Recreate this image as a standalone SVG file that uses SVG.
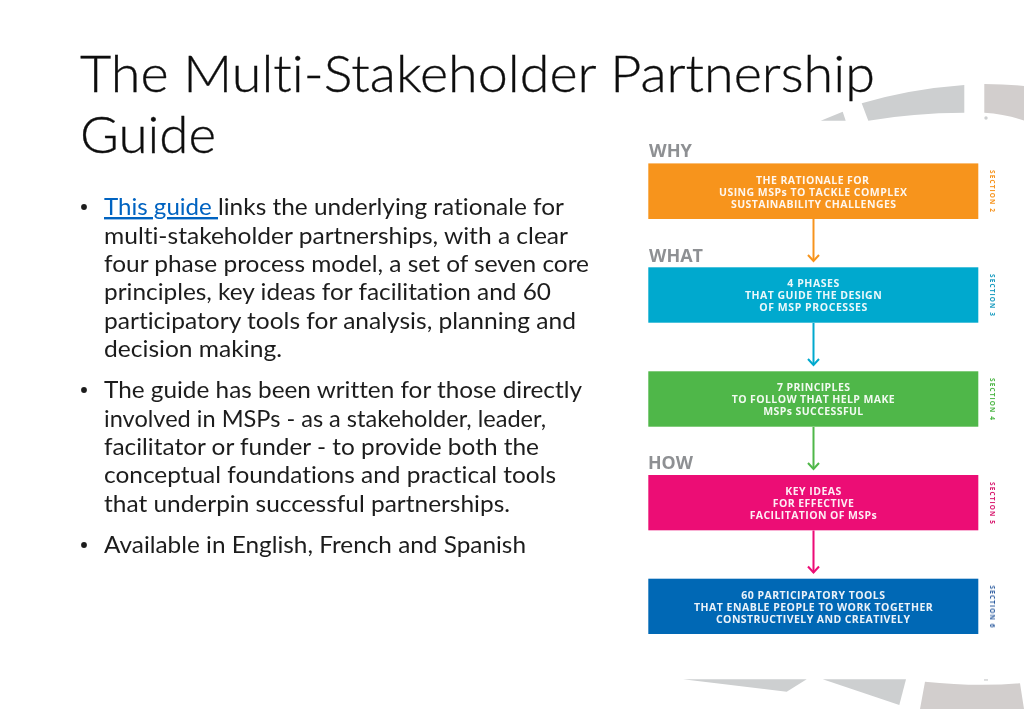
<svg xmlns="http://www.w3.org/2000/svg" width="1024" height="709" viewBox="0 0 1024 709">
<style>
.title{font-family:Lato,"Liberation Sans",sans-serif;font-weight:300;font-size:52px;fill:#111;stroke:#111;stroke-width:.35;font-variant-ligatures:none}
.body{font-family:Lato,"Liberation Sans",sans-serif;font-size:24px;fill:#1c1c1c;font-variant-ligatures:none}
.link{fill:#0563c1;text-decoration:underline;white-space:pre}
.head{font-family:"Open Sans","Liberation Sans",sans-serif;font-weight:700;font-size:18px;fill:#8e9093}
.box{font-family:"Open Sans","Liberation Sans",sans-serif;font-weight:700;font-size:10.500px;fill:#fff;fill-opacity:.92}
.sec{font-family:"Open Sans","Liberation Sans",sans-serif;font-weight:700;font-size:6.500px}
.arc{fill:#cdcfd0}
.arc2{fill:#d2cecd}
.soft{filter:url(#soft)}
.faint{filter:url(#faint)}
.cn{fill:none;stroke-width:2}
</style>
<defs>
<filter id="soft" filterUnits="userSpaceOnUse" x="0" y="0" width="1024" height="709"><feGaussianBlur stdDeviation="0.4"/></filter>
<filter id="faint" filterUnits="userSpaceOnUse" x="0" y="0" width="1024" height="709"><feGaussianBlur stdDeviation="0.25"/></filter>
<marker id="mo" markerUnits="userSpaceOnUse" markerWidth="14" markerHeight="10" refX="7" refY="8" viewBox="0 0 14 10"><path d="M1.500 2L7 8L12.500 2" fill="none" stroke="#f7941e" stroke-width="2"/></marker>
<marker id="mb" markerUnits="userSpaceOnUse" markerWidth="14" markerHeight="10" refX="7" refY="8" viewBox="0 0 14 10"><path d="M1.500 2L7 8L12.500 2" fill="none" stroke="#00a9ce" stroke-width="2"/></marker>
<marker id="mg" markerUnits="userSpaceOnUse" markerWidth="14" markerHeight="10" refX="7" refY="8" viewBox="0 0 14 10"><path d="M1.500 2L7 8L12.500 2" fill="none" stroke="#4fb748" stroke-width="2"/></marker>
<marker id="mp" markerUnits="userSpaceOnUse" markerWidth="14" markerHeight="10" refX="7" refY="8" viewBox="0 0 14 10"><path d="M1.500 2L7 8L12.500 2" fill="none" stroke="#ec0b74" stroke-width="2"/></marker>
</defs>
<rect width="1024" height="709" fill="#fff"/>

<g id="background-arcs" class="soft">
<path class="arc" d="M820.700 120.700L842.700 111.700L845.700 120.700Z"/>
<path class="arc" d="M861.700 103.300Q910 89 964.300 85V112.700Q912 113 868.300 120.700Z"/>
<path class="arc2" d="M984.300 84Q1005 84 1024 86V120.500Q1005 114 984.300 112.700Z"/>
<circle class="arc" cx="986" cy="118" r="1.700"/>
<path class="arc" d="M683 679.300H806.700L786.700 691.700Z"/>
<path class="arc" d="M822.700 679.300H906L899.300 705Z"/>
<path class="arc2" d="M925 681.700Q975 687 1020 683.300L1024 709H920Z"/>
<rect class="arc" x="984" y="679.300" width="4" height="1.300"/>
</g>

<g id="title" class="faint">
<text class="title" x="80" y="92" textLength="795" lengthAdjust="spacingAndGlyphs">The Multi-Stakeholder Partnership</text>
<text class="title" x="80" y="153" textLength="136" lengthAdjust="spacingAndGlyphs">Guide</text>
</g>

<g id="bullets" class="faint">
<circle cx="84" cy="207" r="2.900" fill="#1c1c1c"/>
<circle cx="84" cy="390" r="2.900" fill="#1c1c1c"/>
<circle cx="84" cy="545" r="2.900" fill="#1c1c1c"/>
<text class="body link" x="104" y="215" textLength="114" lengthAdjust="spacingAndGlyphs" xml:space="preserve">This guide </text>
<text class="body" x="218" y="215" textLength="346" lengthAdjust="spacingAndGlyphs">links the underlying rationale for</text>
<text class="body" x="104" y="243.500" textLength="464" lengthAdjust="spacingAndGlyphs">multi-stakeholder partnerships, with a clear</text>
<text class="body" x="104" y="272" textLength="485" lengthAdjust="spacingAndGlyphs">four phase process model, a set of seven core</text>
<text class="body" x="104" y="300" textLength="447" lengthAdjust="spacingAndGlyphs">principles, key ideas for facilitation and 60</text>
<text class="body" x="104" y="328.500" textLength="472" lengthAdjust="spacingAndGlyphs">participatory tools for analysis, planning and</text>
<text class="body" x="104" y="357" textLength="178" lengthAdjust="spacingAndGlyphs">decision making.</text>
<text class="body" x="104" y="398" textLength="478" lengthAdjust="spacingAndGlyphs">The guide has been written for those directly</text>
<text class="body" x="104" y="426.500" textLength="442" lengthAdjust="spacingAndGlyphs">involved in MSPs - as a stakeholder, leader,</text>
<text class="body" x="104" y="455" textLength="435" lengthAdjust="spacingAndGlyphs">facilitator or funder - to provide both the</text>
<text class="body" x="104" y="483" textLength="452" lengthAdjust="spacingAndGlyphs">conceptual foundations and practical tools</text>
<text class="body" x="104" y="511.500" textLength="406" lengthAdjust="spacingAndGlyphs">that underpin successful partnerships.</text>
<text class="body" x="104" y="553" textLength="422" lengthAdjust="spacingAndGlyphs">Available in English, French and Spanish</text>
</g>

<g id="connectors" class="soft">
<path class="cn" stroke="#f7941e" d="M813.500 219V261" marker-end="url(#mo)"/>
<path class="cn" stroke="#00a9ce" d="M813.500 323V365" marker-end="url(#mb)"/>
<path class="cn" stroke="#4fb748" d="M813.500 427V469" marker-end="url(#mg)"/>
<path class="cn" stroke="#ec0b74" d="M813.500 530.500V572.500" marker-end="url(#mp)"/>
</g>

<g id="why" class="soft"><text class="head" x="649" y="157" textLength="43" lengthAdjust="spacingAndGlyphs">WHY</text></g>
<g id="what" class="soft"><text class="head" x="649" y="262" textLength="54" lengthAdjust="spacingAndGlyphs">WHAT</text></g>
<g id="how" class="soft"><text class="head" x="648" y="469" textLength="45" lengthAdjust="spacingAndGlyphs">HOW</text></g>

<g id="node-rationale" class="soft">
<rect x="648.300" y="163.400" width="330" height="55.600" fill="#f7941e"/>
<text class="box" x="756" y="183.500" textLength="113" lengthAdjust="spacing">THE RATIONALE FOR</text>
<text class="box" x="719" y="195.700" textLength="188" lengthAdjust="spacing">USING MSPs TO TACKLE COMPLEX</text>
<text class="box" x="731" y="208" textLength="165" lengthAdjust="spacing">SUSTAINABILITY CHALLENGES</text>
<text class="sec" fill="#f7941e" transform="translate(990 170) rotate(90)" textLength="42" lengthAdjust="spacing">SECTION 2</text>
</g>
<g id="node-phases" class="soft">
<rect x="648.300" y="267.300" width="330" height="55.400" fill="#00a9ce"/>
<text class="box" x="787.300" y="287" textLength="52" lengthAdjust="spacing">4 PHASES</text>
<text class="box" x="745" y="299.300" textLength="136.700" lengthAdjust="spacing">THAT GUIDE THE DESIGN</text>
<text class="box" x="759.300" y="311.300" textLength="108" lengthAdjust="spacing">OF MSP PROCESSES</text>
<text class="sec" fill="#1a9cc0" transform="translate(990 274) rotate(90)" textLength="42" lengthAdjust="spacing">SECTION 3</text>
</g>
<g id="node-principles" class="soft">
<rect x="648.300" y="371.300" width="330" height="55.400" fill="#4fb748"/>
<text class="box" x="777" y="391" textLength="73" lengthAdjust="spacing">7 PRINCIPLES</text>
<text class="box" x="731.700" y="403.300" textLength="163" lengthAdjust="spacing">TO FOLLOW THAT HELP MAKE</text>
<text class="box" x="763.300" y="415.300" textLength="100" lengthAdjust="spacing">MSPs SUCCESSFUL</text>
<text class="sec" fill="#4fb748" transform="translate(990 378) rotate(90)" textLength="42" lengthAdjust="spacing">SECTION 4</text>
</g>
<g id="node-ideas" class="soft">
<rect x="648.300" y="475" width="330" height="55.300" fill="#ec0b74"/>
<text class="box" x="785.300" y="495" textLength="56" lengthAdjust="spacing">KEY IDEAS</text>
<text class="box" x="772.700" y="507.300" textLength="81.300" lengthAdjust="spacing">FOR EFFECTIVE</text>
<text class="box" x="749.700" y="519.300" textLength="127" lengthAdjust="spacing">FACILITATION OF MSPs</text>
<text class="sec" fill="#d81b6f" transform="translate(990 482) rotate(90)" textLength="42" lengthAdjust="spacing">SECTION 5</text>
</g>
<g id="node-tools" class="soft">
<rect x="648.300" y="578.700" width="330" height="55.300" fill="#0668b5"/>
<text class="box" x="741.300" y="598.800" textLength="143.700" lengthAdjust="spacing">60 PARTICIPATORY TOOLS</text>
<text class="box" x="694" y="611" textLength="238.700" lengthAdjust="spacing">THAT ENABLE PEOPLE TO WORK TOGETHER</text>
<text class="box" x="716" y="623.200" textLength="194" lengthAdjust="spacing">CONSTRUCTIVELY AND CREATIVELY</text>
<text class="sec" fill="#2a5a9e" transform="translate(990 585.500) rotate(90)" textLength="42" lengthAdjust="spacing">SECTION 6</text>
</g>
</svg>
